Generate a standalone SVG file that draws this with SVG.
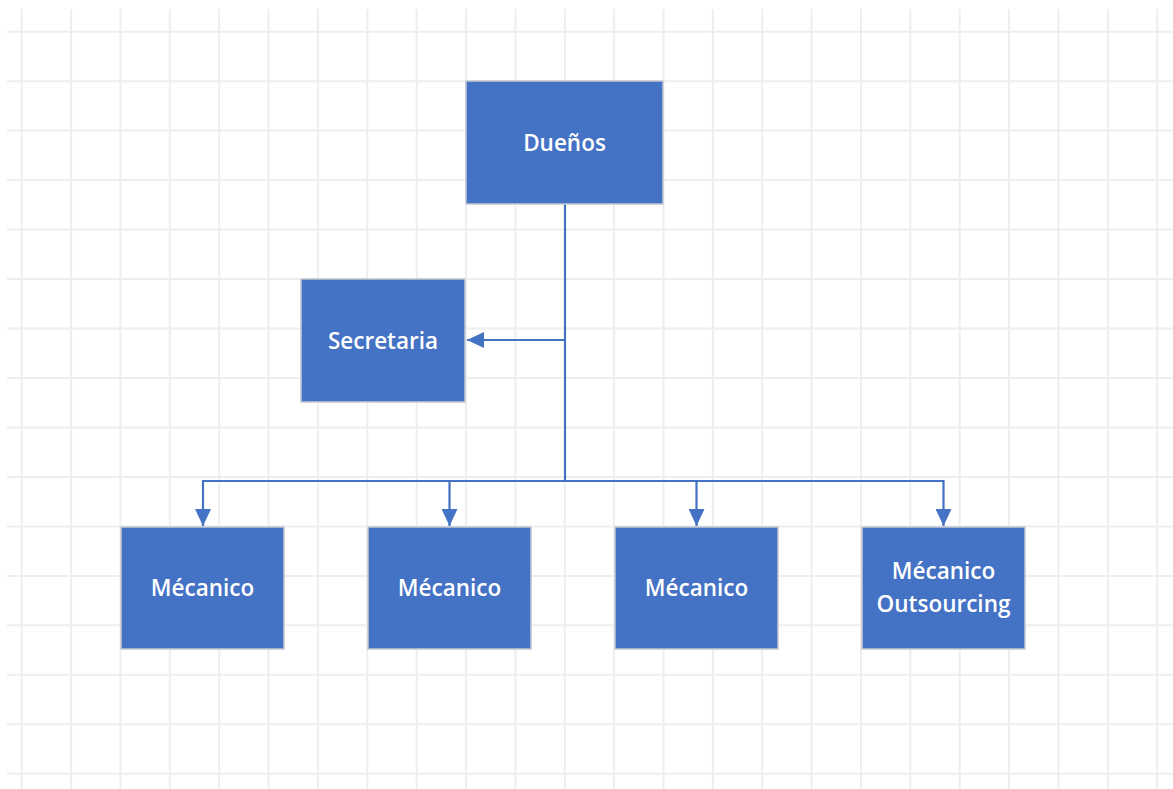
<svg xmlns="http://www.w3.org/2000/svg" width="1173" height="789" viewBox="0 0 1173 789">
<style>
.grid line{stroke:#eeeeee;stroke-width:2}
.node rect{fill:#4472C4;stroke:#c3c8d0;stroke-width:1.5}
.node text{fill:#ffffff;font-family:"Open Sans","Noto Sans","Liberation Sans",sans-serif;font-weight:600;font-size:22.5px;text-anchor:middle}
.conn path{fill:none;stroke:#4472C4;stroke-width:2.2}
</style>
<defs>
<marker id="arr" viewBox="0 0 10 10" refX="10" refY="5" markerWidth="17" markerHeight="16" markerUnits="userSpaceOnUse" orient="auto" preserveAspectRatio="none">
<path d="M0,0 L10,5 L0,10 Z" fill="#4472C4"/>
</marker>
</defs>
<rect width="1173" height="789" fill="#ffffff"/>
<g class="grid">
<line x1="21.7" y1="9" x2="21.7" y2="789"/>
<line x1="71.1" y1="9" x2="71.1" y2="789"/>
<line x1="120.4" y1="9" x2="120.4" y2="789"/>
<line x1="169.8" y1="9" x2="169.8" y2="789"/>
<line x1="219.2" y1="9" x2="219.2" y2="789"/>
<line x1="268.5" y1="9" x2="268.5" y2="789"/>
<line x1="317.9" y1="9" x2="317.9" y2="789"/>
<line x1="367.3" y1="9" x2="367.3" y2="789"/>
<line x1="416.7" y1="9" x2="416.7" y2="789"/>
<line x1="466" y1="9" x2="466" y2="789"/>
<line x1="515.4" y1="9" x2="515.4" y2="789"/>
<line x1="564.8" y1="9" x2="564.8" y2="789"/>
<line x1="614.1" y1="9" x2="614.1" y2="789"/>
<line x1="663.5" y1="9" x2="663.5" y2="789"/>
<line x1="712.9" y1="9" x2="712.9" y2="789"/>
<line x1="762.2" y1="9" x2="762.2" y2="789"/>
<line x1="811.6" y1="9" x2="811.6" y2="789"/>
<line x1="861" y1="9" x2="861" y2="789"/>
<line x1="910.3" y1="9" x2="910.3" y2="789"/>
<line x1="959.7" y1="9" x2="959.7" y2="789"/>
<line x1="1009.1" y1="9" x2="1009.1" y2="789"/>
<line x1="1058.5" y1="9" x2="1058.5" y2="789"/>
<line x1="1107.8" y1="9" x2="1107.8" y2="789"/>
<line x1="1157.2" y1="9" x2="1157.2" y2="789"/>
<line x1="7" y1="31.7" x2="1173" y2="31.7"/>
<line x1="7" y1="81.2" x2="1173" y2="81.2"/>
<line x1="7" y1="130.6" x2="1173" y2="130.6"/>
<line x1="7" y1="180.1" x2="1173" y2="180.1"/>
<line x1="7" y1="229.6" x2="1173" y2="229.6"/>
<line x1="7" y1="279" x2="1173" y2="279"/>
<line x1="7" y1="328.5" x2="1173" y2="328.5"/>
<line x1="7" y1="378" x2="1173" y2="378"/>
<line x1="7" y1="427.5" x2="1173" y2="427.5"/>
<line x1="7" y1="476.9" x2="1173" y2="476.9"/>
<line x1="7" y1="526.4" x2="1173" y2="526.4"/>
<line x1="7" y1="575.9" x2="1173" y2="575.9"/>
<line x1="7" y1="625.3" x2="1173" y2="625.3"/>
<line x1="7" y1="674.8" x2="1173" y2="674.8"/>
<line x1="7" y1="724.3" x2="1173" y2="724.3"/>
<line x1="7" y1="773.7" x2="1173" y2="773.7"/>
</g>
<g class="conn">
<path d="M565,204 L565,481"/>
<path d="M565,340 L467,340" marker-end="url(#arr)"/>
<path d="M565,481 L203,481 L203,526" marker-end="url(#arr)"/>
<path d="M449.5,481 L449.5,526" marker-end="url(#arr)"/>
<path d="M565,481 L696.5,481 L696.5,526" marker-end="url(#arr)"/>
<path d="M696.5,481 L943.5,481 L943.5,526" marker-end="url(#arr)"/>
</g>
<g id="duenos" class="node">
<rect x="466" y="81" width="197" height="123"/>
<text x="564.5" y="151">Dueños</text>
</g>
<g id="secretaria" class="node">
<rect x="301" y="279" width="164" height="123"/>
<text x="383" y="349">Secretaria</text>
</g>
<g id="mecanico1" class="node">
<rect x="121" y="527" width="163" height="122"/>
<text x="202.5" y="596">Mécanico</text>
</g>
<g id="mecanico2" class="node">
<rect x="368" y="527" width="163" height="122"/>
<text x="449.5" y="596">Mécanico</text>
</g>
<g id="mecanico3" class="node">
<rect x="615" y="527" width="163" height="122"/>
<text x="696.5" y="596">Mécanico</text>
</g>
<g id="mecanico4" class="node">
<rect x="862" y="527" width="163" height="122"/>
<text x="943.5" y="579">Mécanico</text>
<text x="943.5" y="612">Outsourcing</text>
</g>
</svg>
